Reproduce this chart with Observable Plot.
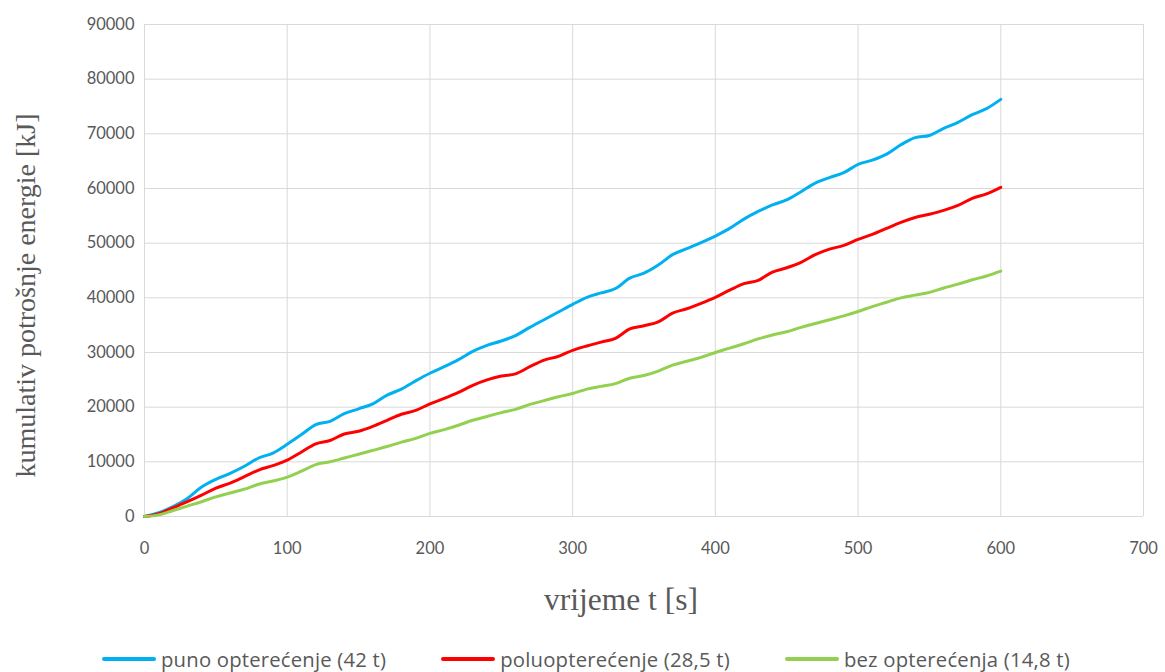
<!DOCTYPE html>
<html><head><meta charset="utf-8">
<script src="https://cdn.jsdelivr.net/npm/d3@7"></script>
<script src="https://cdn.jsdelivr.net/npm/@observablehq/plot@0.6"></script>
<style>
html,body{margin:0;padding:0;background:#fff;overflow:hidden;}
#chart svg{display:block;}
g[aria-label="y-axis label"], g[aria-label="x-axis label"]{font-family:"Liberation Serif","Times New Roman",serif;}
g[aria-label="y-axis label"]{font-size:28px;}
g[aria-label="x-axis label"]{font-size:31.5px;}
#legend{display:flex;align-items:center;height:30px;padding-left:102px;font-family:"Open Sans",sans-serif;font-size:20.3px;letter-spacing:0.2px;color:#595959;line-height:28px;}
#legend .item{display:flex;align-items:center;margin-right:55px;}
#legend .sw{width:54px;height:4px;margin-right:5px;border-radius:2px;}
</style></head>
<body>
<div id="chart"></div>
<div id="legend"></div>
<script>
const time = [0,10,20,30,40,50,60,70,80,90,100,110,120,130,140,150,160,170,180,190,200,210,220,230,240,250,260,270,280,290,300,310,320,330,340,350,360,370,380,390,400,410,420,430,440,450,460,470,480,490,500,510,520,530,540,550,560,570,580,590,600];
const puno = [0,700,1800,3300,5400,6800,7900,9200,10700,11600,13200,15000,16800,17400,18800,19700,20600,22200,23300,24800,26200,27400,28700,30200,31300,32100,33100,34600,36000,37400,38800,40100,40900,41700,43600,44500,46000,47900,49000,50100,51300,52700,54400,55800,57000,57900,59400,61000,62000,62900,64400,65200,66300,68000,69300,69700,71000,72100,73500,74600,76300];
const polu = [0,500,1600,2700,3900,5200,6100,7300,8500,9300,10300,11800,13300,13900,15100,15600,16500,17600,18700,19400,20600,21600,22700,24000,25000,25700,26100,27400,28600,29300,30400,31200,31900,32600,34300,34900,35600,37200,38000,39000,40100,41400,42600,43200,44700,45500,46500,47900,48900,49600,50700,51600,52700,53800,54700,55300,56000,56900,58200,59000,60200];
const bez = [0,300,1100,1900,2700,3600,4300,5000,5900,6500,7200,8300,9500,10000,10700,11400,12100,12800,13600,14300,15200,15900,16700,17600,18300,19000,19600,20500,21200,21900,22500,23300,23800,24300,25300,25800,26600,27700,28400,29100,30000,30800,31600,32500,33200,33800,34600,35300,36000,36700,37500,38400,39200,40000,40500,41000,41800,42500,43300,44000,44900];
const seriesNames = ["puno opterećenje (42 t)","poluopterećenje (28,5 t)","bez opterećenja (14,8 t)"];
const seriesColors = ["#00B0F0","#FF0000","#92D050"];
const xTicks = [0,100,200,300,400,500,600,700];
const yTicks = [0,10000,20000,30000,40000,50000,60000,70000,80000,90000];
const xTitle = "vrijeme t [s]";
const yTitle = "kumulativ potrošnje energie [kJ]";

const values = [puno, polu, bez];
const data = [];
values.forEach((arr, i) => arr.forEach((v, j) => data.push({t: time[j], v, s: seriesNames[i]})));

const chart = Plot.plot({
  width: 1165,
  height: 644,
  marginLeft: 144,
  marginRight: 22,
  marginTop: 24,
  marginBottom: 128,
  style: {fontFamily: "Lato, sans-serif", fontSize: "16.5px", color: "#595959", background: "#fff"},
  x: {domain: [0, 700]},
  y: {domain: [0, 90000]},
  color: {domain: seriesNames, range: seriesColors},
  marks: [
    Plot.gridX(xTicks, {stroke: "#d9d9d9", strokeOpacity: 1, strokeWidth: 1}),
    Plot.gridY(yTicks, {stroke: "#d9d9d9", strokeOpacity: 1, strokeWidth: 1}),
    Plot.axisX(xTicks, {tickSize: 0, tickPadding: 26, label: xTitle, labelArrow: "none", labelAnchor: "center", labelOffset: 90, fill: "#595959"}),
    Plot.axisY(yTicks, {tickSize: 0, tickPadding: 10, tickFormat: d => String(d), label: yTitle, labelArrow: "none", labelAnchor: "center", labelOffset: 132, fill: "#595959"}),
    Plot.lineY(data, {x: "t", y: "v", z: "s", stroke: "s", strokeWidth: 3, curve: "monotone-x"})
  ]
});
document.getElementById("chart").appendChild(chart);

// shift axis titles to match the original layout
function nudge(sel, dx, dy) {
  const g = chart.querySelector(sel);
  if (!g) return;
  const t = g.getAttribute("transform") || "";
  g.setAttribute("transform", `translate(${dx},${dy}) ${t}`);
}
nudge('g[aria-label="y-axis label"]', 3, 25);
nudge('g[aria-label="x-axis label"]', -23, 3);

const legend = document.getElementById("legend");
seriesNames.forEach((n, i) => {
  const it = document.createElement("div");
  it.className = "item";
  const sw = document.createElement("div");
  sw.className = "sw";
  sw.style.background = seriesColors[i];
  const tx = document.createElement("span");
  tx.textContent = n;
  it.appendChild(sw); it.appendChild(tx);
  legend.appendChild(it);
});
</script>
</body></html>
